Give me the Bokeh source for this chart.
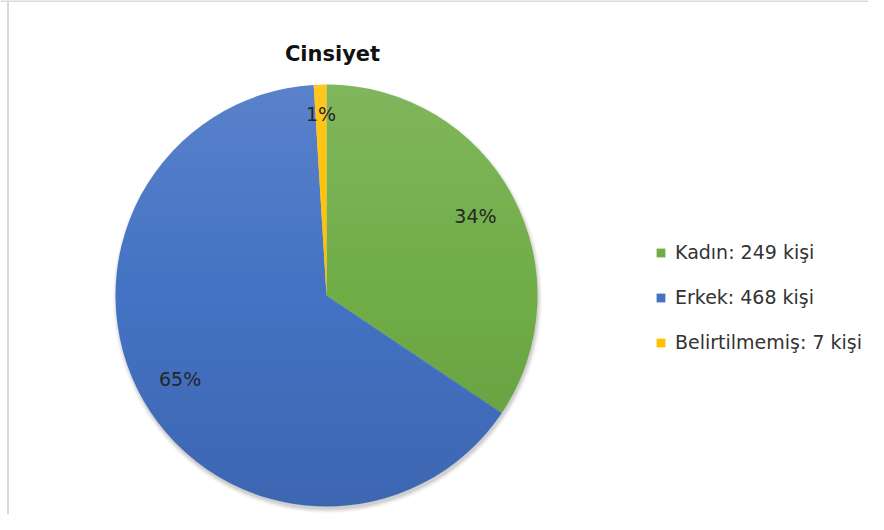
import numpy as np
from bokeh.plotting import figure
from bokeh.models import Range1d, ColumnDataSource, Legend, LegendItem, Span, Label
from bokeh.core.properties import value
from bokeh.embed import file_html
from bokeh.resources import INLINE

# ---- data ----
title_text = "Cinsiyet"
categories = ["Kadın", "Erkek", "Belirtilmemiş"]
counts = [249, 468, 7]
unit = "kişi"
colors = ["#70AD47", "#4472C4", "#FFC000"]

# ---- layout (image pixel coordinates: x right, y = 530 - image_y) ----
W, H = 868, 514
FONT = "DejaVu Sans"
cx, cy, R = 326, 530 - 295, 211

p = figure(width=W, height=H, output_backend="svg", toolbar_location=None,
           x_range=Range1d(0, W), y_range=Range1d(530 - H, 530),
           x_axis_type=None, y_axis_type=None, min_border=0,
           outline_line_color=None, background_fill_color="white",
           border_fill_color="white")
p.grid.visible = False

total = float(sum(counts))
fracs = [c / total for c in counts]
cum_end = np.cumsum(fracs)
cum_start = cum_end - np.array(fracs)
start_angles = [np.pi / 2 - 2 * np.pi * s for s in cum_start]
end_angles = [np.pi / 2 - 2 * np.pi * e for e in cum_end]

# soft shadow
for k, a in enumerate([0.05, 0.05, 0.04, 0.03, 0.02]):
    p.circle(x=[cx + 1], y=[cy - 3], radius=R + k, fill_color="black",
             fill_alpha=a, line_color=None)

src = ColumnDataSource(dict(start=start_angles, end=end_angles, color=colors,
                            label=[f"{c}: {n} {unit}" for c, n in zip(categories, counts)]))
wr = p.wedge(x=cx, y=cy, radius=R, start_angle="start", end_angle="end",
             direction="clock", fill_color="color", line_color=None, source=src)

# vertical shading overlay (lighter top, darker bottom)
N = 2 * R + 2
yy, xx = np.mgrid[0:N, 0:N]
dx = xx - N / 2 + 0.5
dy = yy - N / 2 + 0.5
inside = dx ** 2 + dy ** 2 <= R ** 2
t = dy / R
img = np.zeros((N, N, 4), dtype=np.uint8)
top = inside & (t > 0)
bot = inside & (t <= 0)
img[top, 0:3] = 255
img[top, 3] = (0.12 * t[top] * 255).astype(np.uint8)
img[bot, 0:3] = 0
img[bot, 3] = (0.10 * (-t[bot]) * 255).astype(np.uint8)
p.image_rgba(image=[img.view(np.uint32).reshape(N, N)], x=cx - N / 2, y=cy - N / 2, dw=N, dh=N)

# percentage labels
lx, ly, lt = [], [], []
for f, s, e in zip(fracs, cum_start, cum_end):
    mid = np.pi * (s + e)
    rr = R * (0.86 if f < 0.05 else 0.8)
    lx.append(cx + rr * np.sin(mid))
    ly.append(cy + rr * np.cos(mid))
    lt.append(f"{round(100 * f)}%")
p.text(x=lx, y=ly, text=lt, text_align="center", text_baseline="middle",
       text_font=value(FONT), text_font_size="19px", text_color="#262626")

# title
p.add_layout(Label(x=332, y=530 - 53, text=title_text, text_align="center",
                   text_baseline="middle", text_font=FONT, text_font_size="21px",
                   text_font_style="bold", text_color="#111111"))

# frame border lines (left and top)
p.add_layout(Span(location=7.5, dimension="height", line_color="#d9d9d9", line_width=2))
p.add_layout(Span(location=529.5, dimension="width", line_color="#d9d9d9", line_width=2))

items = [LegendItem(label=src.data["label"][i], renderers=[wr], index=i) for i in range(len(categories))]
legend = Legend(items=items, location=(655, 161), orientation="vertical",
                glyph_width=11, glyph_height=11, label_height=22, spacing=23,
                label_standoff=9, label_text_font=FONT, label_text_font_size="19px",
                label_text_color="#333333", padding=0, margin=0,
                border_line_alpha=0, background_fill_alpha=0)
p.add_layout(legend)

open("out.html", "w").write(file_html(p, INLINE))
